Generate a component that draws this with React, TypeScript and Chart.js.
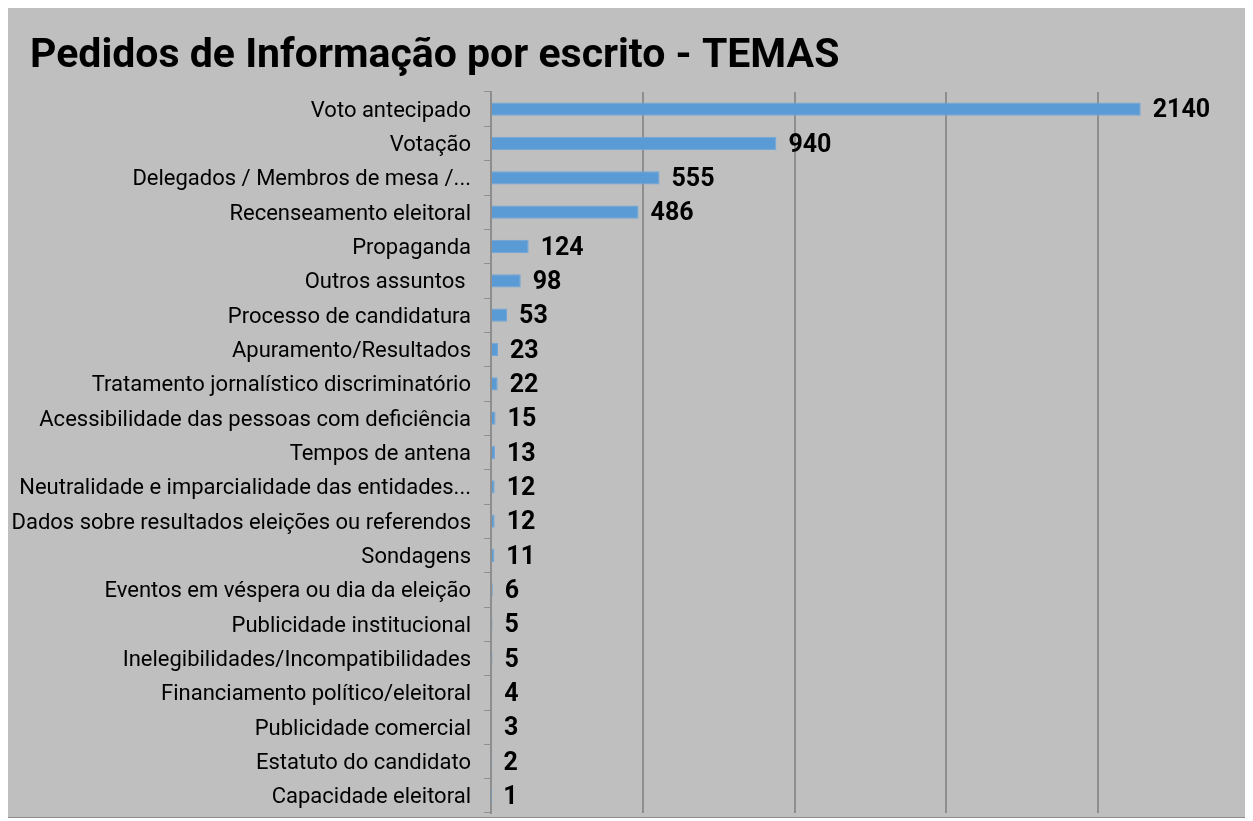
import React, { useEffect, useRef } from "react";
import { Chart, registerables } from "chart.js";

Chart.register(...registerables);

const TITLE = "Pedidos de Informação por escrito - TEMAS";

const categories = [
  "Voto antecipado",
  "Votação",
  "Delegados / Membros de mesa /...",
  "Recenseamento eleitoral",
  "Propaganda",
  "Outros assuntos ",
  "Processo de candidatura",
  "Apuramento/Resultados",
  "Tratamento jornalístico discriminatório",
  "Acessibilidade das pessoas com deficiência",
  "Tempos de antena",
  "Neutralidade e imparcialidade das entidades...",
  "Dados sobre resultados eleições ou referendos",
  "Sondagens",
  "Eventos em véspera ou dia da eleição",
  "Publicidade institucional",
  "Inelegibilidades/Incompatibilidades",
  "Financiamento político/eleitoral",
  "Publicidade comercial",
  "Estatuto do candidato",
  "Capacidade eleitoral",
];

const values = [2140, 940, 555, 486, 124, 98, 53, 23, 22, 15, 13, 12, 12, 11, 6, 5, 5, 4, 3, 2, 1];

const xMin = 0;
const xMax = 2500;
const xStep = 500;

const titlePlugin = {
  id: "customTitle",
  afterDraw(chart: any) {
    const ctx = chart.ctx;
    ctx.save();
    ctx.font = "bold 41px Roboto";
    ctx.fillStyle = "#000000";
    ctx.textBaseline = "alphabetic";
    ctx.textAlign = "left";
    ctx.fillText(TITLE, 22, 59);
    ctx.restore();
  },
};

const valueLabelPlugin = {
  id: "valueLabels",
  afterDatasetsDraw(chart: any) {
    const ctx = chart.ctx;
    const meta = chart.getDatasetMeta(0);
    ctx.save();
    ctx.font = "bold 25px Roboto";
    ctx.fillStyle = "#000000";
    ctx.textAlign = "left";
    ctx.textBaseline = "middle";
    meta.data.forEach((bar: any, i: number) => {
      const v = chart.data.datasets[0].data[i];
      ctx.fillText(String(v), bar.x + 12, bar.y + 2);
    });
    ctx.restore();
  },
};

export default function App() {
  const ref = useRef<HTMLCanvasElement | null>(null);

  useEffect(() => {
    if (!ref.current) return;
    const chart = new Chart(ref.current, {
      type: "bar",
      data: {
        labels: categories,
        datasets: [
          {
            data: values,
            backgroundColor: "#5b9bd5",
            borderColor: "#6fa7dc",
            borderWidth: 1,
            barPercentage: 0.39,
            categoryPercentage: 1,
          },
        ],
      },
      options: {
        indexAxis: "y",
        animation: false,
        responsive: false,
        maintainAspectRatio: false,
        layout: { padding: { top: 84, bottom: 4, left: 0, right: 0 } },
        plugins: {
          legend: { display: false },
          title: { display: false },
          tooltip: { enabled: false },
        },
        scales: {
          x: {
            min: xMin,
            max: xMax,
            ticks: { stepSize: xStep, display: false },
            grid: {
              color: "#8e8e8e",
              lineWidth: 2,
              drawTicks: false,
            },
            border: { display: false },
            afterFit(scale: any) {
              scale.height = 0;
              scale.paddingLeft = 0;
              scale.paddingRight = 0;
            },
          },
          y: {
            ticks: {
              color: "#000000",
              font: { family: "Roboto", size: 22 },
              padding: 13,
              labelOffset: 2,
              autoSkip: false,
            },
            grid: {
              drawOnChartArea: false,
              drawTicks: true,
              tickLength: 7,
              tickColor: "#8e8e8e",
              lineWidth: 1,
              offset: true,
            },
            border: { display: true, color: "#8e8e8e", width: 2 },
            afterFit(scale: any) {
              scale.width = 483;
              scale.paddingTop = 0;
              scale.paddingBottom = 0;
            },
          },
        },
      },
      plugins: [titlePlugin, valueLabelPlugin],
    });
    return () => chart.destroy();
  }, []);

  return (
    <div
      style={{
        marginLeft: -1,
        marginTop: -1,
        width: 1242,
        height: 809,
        border: "1px solid #8a8a8a",
        background: "#bfbfbf",
      }}
    >
      <canvas ref={ref} width={1242} height={809} style={{ display: "block" }} />
    </div>
  );
}
